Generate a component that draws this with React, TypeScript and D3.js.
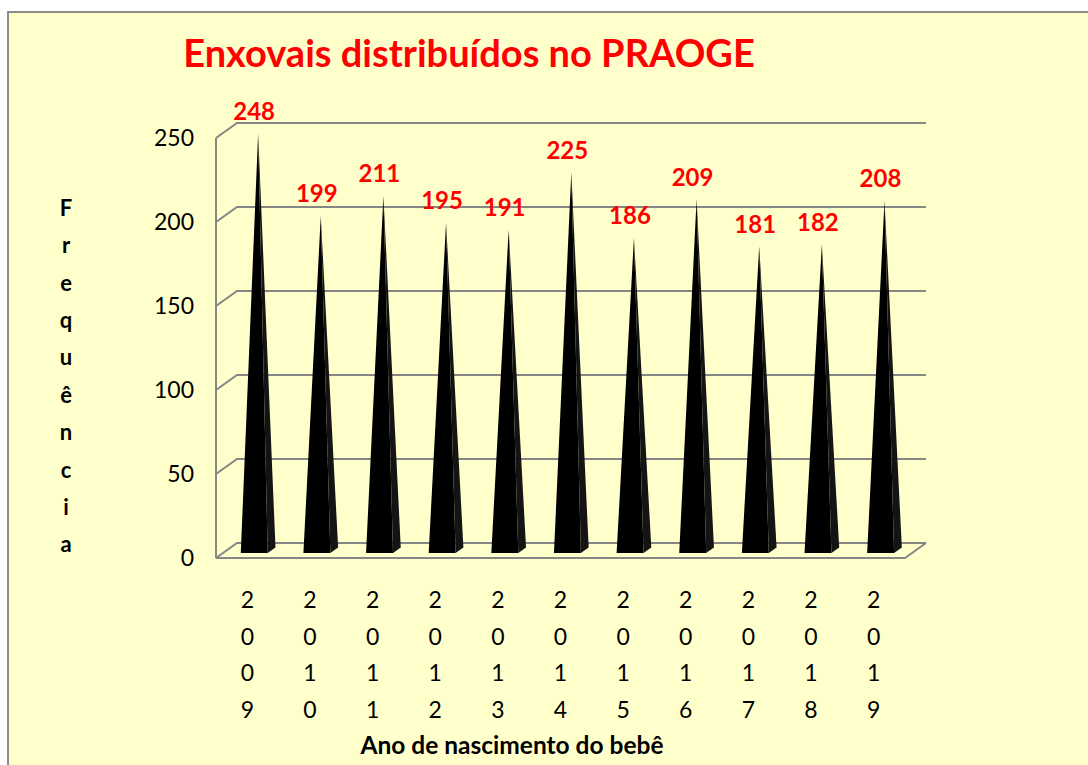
import React from 'react';
import * as d3 from 'd3';

// Enxovais distribuídos por ano de nascimento (3D pyramid column chart)
const years = ['2009', '2010', '2011', '2012', '2013', '2014', '2015', '2016', '2017', '2018', '2019'];
const counts = [248, 199, 211, 195, 191, 225, 186, 209, 181, 182, 208];
const yTicks = [0, 50, 100, 150, 200, 250];
const yTitle = 'Frequência';
const xTitle = 'Ano de nascimento do bebê';
const title = 'Enxovais distribuídos no PRAOGE';

const W = 1088;
const H = 765;
const FONT = 'Lato, "Open Sans", sans-serif';
const GRID = '#868686';
// oblique depth offset of the 3D box
const DX = 21;
const DY = 15;

export default function App() {
  const x = d3.scaleBand<string>().domain(years).range([216, 905]).padding(0);
  const y = d3.scaleLinear().domain([0, 250]).range([558, 138]);

  // projection: front plane coordinate + depth fraction z (0 front, 1 back)
  const px = (fx: number, z: number) => fx + z * DX;
  const py = (fy: number, z: number) => fy - z * DY;

  const bw = x.bandwidth() * 0.43;
  const z0 = 0.33;
  const z1 = 0.7;
  const zm = (z0 + z1) / 2;

  const pt = (a: number, b: number) => `${a},${b}`;

  return (
    <div style={{ position: 'fixed', left: 0, top: 0, width: W, height: H, background: '#fff' }}>
      <svg width={W} height={H} viewBox={`0 0 ${W} ${H}`} style={{ display: 'block', fontFamily: FONT }}>
        <rect x={8} y={12} width={W + 10} height={H + 10} fill="#FFFFCC" stroke="#8c8c8c" strokeWidth={2} />

        <text x={469} y={67} textAnchor="middle" fill="#FF0000" fontWeight={700} fontSize={38}>
          {title}
        </text>

        {/* walls and gridlines */}
        <g fill="none" stroke={GRID} strokeWidth={2}>
          {yTicks.map((t) => (
            <polyline
              key={t}
              points={[pt(px(x.range()[0], 0), y(t)), pt(px(x.range()[0], 1), py(y(t), 1)), pt(px(x.range()[1], 1), py(y(t), 1))].join(' ')}
            />
          ))}
          <line x1={x.range()[0]} x2={x.range()[0]} y1={y(250)} y2={y(0)} />
          <polyline
            points={[pt(x.range()[0], y(0)), pt(x.range()[1], y(0)), pt(px(x.range()[1], 1), py(y(0), 1))].join(' ')}
          />
        </g>

        {/* y tick labels */}
        <g fontSize={23} fill="#000" textAnchor="end">
          {yTicks.map((t) => (
            <text key={t} x={194} y={y(t)} dy="0.35em">
              {t}
            </text>
          ))}
        </g>

        {/* pyramids */}
        {years.map((yr, i) => {
          const c = (x(yr) as number) + x.bandwidth() / 2;
          const l = c - bw / 2;
          const r = c + bw / 2;
          const apex = [px(c, zm), py(y(counts[i]), zm)];
          const front = [pt(px(l, z0), py(y(0), z0)), pt(px(r, z0), py(y(0), z0)), pt(apex[0], apex[1])].join(' ');
          const side = [pt(px(r, z0), py(y(0), z0)), pt(px(r, z1), py(y(0), z1)), pt(apex[0], apex[1])].join(' ');
          return (
            <g key={yr}>
              <polygon points={front} fill="#000" />
              <polygon points={side} fill="#141414" />
              <text
                x={apex[0] - 4}
                y={apex[1] - 22}
                dy="0.35em"
                textAnchor="middle"
                fill="#FF0000"
                fontWeight={700}
                fontSize={24}
              >
                {counts[i]}
              </text>
            </g>
          );
        })}

        {/* x category labels, one digit per line */}
        <g fontSize={23} fill="#000" textAnchor="middle">
          {years.map((yr) => (
            <text key={yr} x={(x(yr) as number) + x.bandwidth() / 2}>
              {yr.split('').map((ch, k) => (
                <tspan key={k} x={(x(yr) as number) + x.bandwidth() / 2} y={600 + k * 36.7} dy="0.35em">
                  {ch}
                </tspan>
              ))}
            </text>
          ))}
        </g>

        <text x={512} y={745} dy="0.35em" textAnchor="middle" fontWeight={700} fontSize={24.5} fill="#000">
          {xTitle}
        </text>

        <g fontSize={22} fontWeight={700} fill="#000" textAnchor="middle">
          {yTitle.split('').map((ch, k) => (
            <text key={k} x={66} y={208 + k * 37.4} dy="0.35em">
              {ch}
            </text>
          ))}
        </g>
      </svg>
    </div>
  );
}
